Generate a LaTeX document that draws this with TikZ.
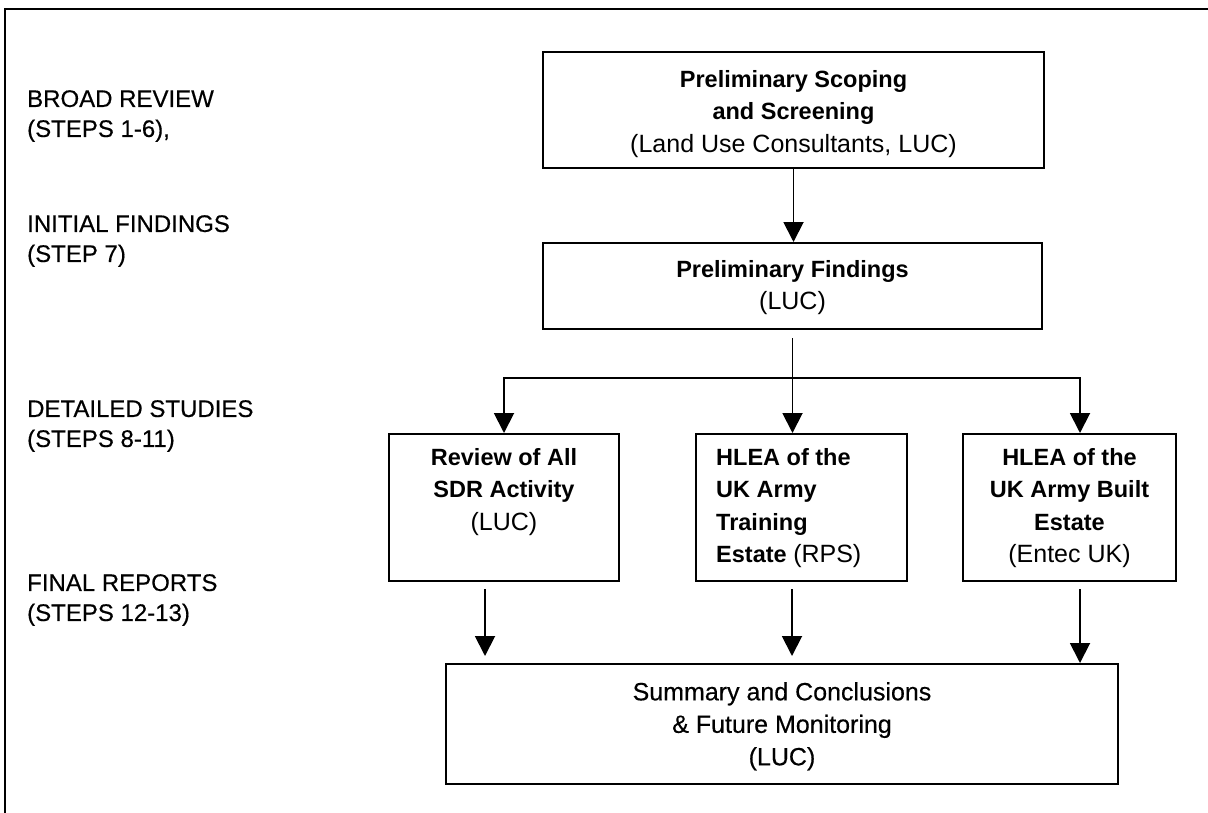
\documentclass[tikz,border=0pt]{standalone}
\usepackage{fontspec}
\setmainfont{Liberation Sans}
\newfontfamily\medfont{Liberation Sans}[FakeBold=0.4]
\usetikzlibrary{arrows.meta, positioning}

\newcommand{\who}[1]{{\fontsize{25}{32.5}\selectfont\mdseries #1}}

\begin{document}
\begin{tikzpicture}[x=1pt, y=-1pt,
  box/.style={draw, line width=2pt, inner sep=0pt},
  boxtxt/.style={align=center, inner sep=0pt, anchor=north, font=\fontsize{23.5}{32.5}\selectfont\bfseries},
  phase/.style={align=left, inner sep=0pt, anchor=north west, font=\medfont\fontsize{24}{30}\selectfont},
  link/.style={line width=1.9pt},
  flow/.style={link, -{Triangle[length=20pt, width=20pt]}}]
\useasboundingbox (0,0) rectangle (1208,812);
\draw[line width=2.4pt] (5,830) -- (5,9) -- (1230,9);

\node[phase] (broad) at (27,90) {BROAD REVIEW\\(STEPS 1-6),};
\node[phase] (initial) at (27,215) {INITIAL FINDINGS\\(STEP 7)};
\node[phase] (detailed) at (27,400) {DETAILED STUDIES\\(STEPS 8-11)};
\node[phase] (final) at (27,574) {FINAL REPORTS\\(STEPS 12-13)};

\node[box, minimum width=501pt, minimum height=116pt] (prelim) at (793.5,110) {};
\node[box, minimum width=499pt, minimum height=86pt] (findings) at (792.5,286) {};
\node[box, minimum width=230pt, minimum height=147pt] (review) at (504,507.5) {};
\node[box, minimum width=211pt, minimum height=147pt] (training) at (801.5,507.5) {};
\node[box, minimum width=213pt, minimum height=147pt] (built) at (1069.5,507.5) {};
\node[box, minimum width=672pt, minimum height=120pt] (summary) at (782,724) {};

\node[boxtxt] (prelimtxt) at ([yshift=-19pt]prelim.north) {Preliminary Scoping\\and Screening\\\who{(Land Use Consultants, LUC)}};
\node[boxtxt] (findingstxt) at ([yshift=-18pt]findings.north) {Preliminary Findings\\\who{(LUC)}};
\node[boxtxt] (reviewtxt) at ([yshift=-15pt]review.north) {Review of All\\SDR Activity\\\who{(LUC)}};
\node[boxtxt, align=left, anchor=north west] (trainingtxt) at ([xshift=21pt, yshift=-15pt]training.north west) {HLEA of the\\UK Army\\Training\\Estate \who{(RPS)}};
\node[boxtxt] (builttxt) at ([yshift=-15pt]built.north) {HLEA of the\\UK Army Built\\Estate\\\who{(Entec UK)}};
\node[boxtxt, font=\medfont\fontsize{25}{32.5}\selectfont] (summarytxt) at ([yshift=-19pt]summary.north) {Summary and Conclusions\\\& Future Monitoring\\(LUC)};

\draw[flow] (prelim.south) -- (prelim.south |- findings.north);
\coordinate (fork) at ([yshift=-48pt]findings.south);
\draw[link] ([yshift=-8pt]findings.south) -- (fork);
\draw[flow] (fork) -| (review.north);
\draw[flow] (fork) -- (fork |- training.north);
\draw[flow] (fork) -| ([xshift=10.5pt]built.north);

\draw[flow] ([xshift=-19pt, yshift=-7pt]review.south) -- ([xshift=-19pt, yshift=7pt]review.south |- summary.north);
\draw[flow] ([xshift=-9.5pt, yshift=-7pt]training.south) -- ([xshift=-9.5pt, yshift=7pt]training.south |- summary.north);
\draw[flow] ([xshift=10.5pt, yshift=-7pt]built.south) -- ([xshift=10.5pt]built.south |- summary.north);
\end{tikzpicture}
\end{document}
